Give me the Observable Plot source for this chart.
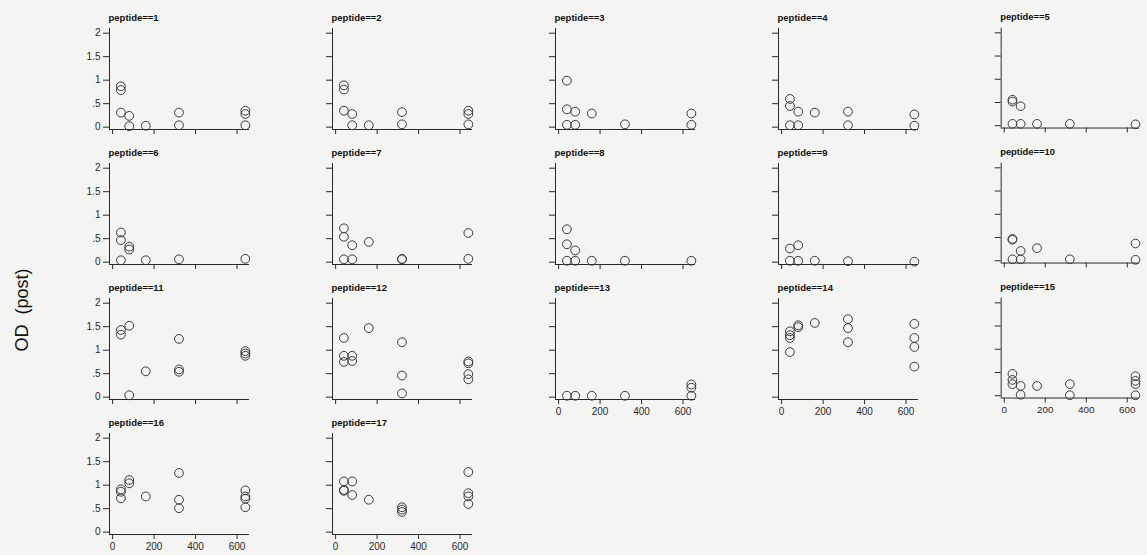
<!DOCTYPE html>
<html>
<head>
<meta charset="utf-8">
<script src="https://cdn.jsdelivr.net/npm/d3@7"></script>
<script src="https://cdn.jsdelivr.net/npm/@observablehq/plot@0.6"></script>
<style>
  html, body { margin: 0; padding: 0; background: #f4f4f3; }
  #chart { position: relative; width: 1147px; height: 555px; overflow: hidden; font-family: "Liberation Sans", Arial, sans-serif; }
  .panel { position: absolute; }
  #ylab { position: absolute; left: 22px; top: 310px; transform: translate(-50%, -50%) rotate(-90deg); font-size: 18px; color: #111; white-space: pre; }
</style>
</head>
<body>
<div id="chart"><div id="ylab">OD  (post)</div></div>
<script>
// doses (x values)
const doses = [40, 80, 160, 320, 640];
// axis ticks
const xTicks = [0, 200, 400, 600];
const xTickLabels = ["0", "200", "400", "600"];
const yTicks = [0, 0.5, 1, 1.5, 2];
const yTickLabels = ["0", ".5", "1", "1.5", "2"];
// OD (post) values per dose (groups follow doses order)
const pep1  = [[0.87, 0.79, 0.31], [0.24, 0.02], [0.03], [0.31, 0.04], [0.35, 0.28, 0.04]];
const pep2  = [[0.89, 0.80, 0.35], [0.28, 0.04], [0.04], [0.32, 0.06], [0.35, 0.28, 0.06]];
const pep3  = [[0.99, 0.38, 0.05], [0.33, 0.05], [0.29], [0.06], [0.29, 0.05]];
const pep4  = [[0.60, 0.45, 0.04], [0.33, 0.04], [0.31], [0.33, 0.04], [0.27, 0.03]];
const pep5  = [[0.56, 0.52, 0.04], [0.42, 0.04], [0.04], [0.04], [0.03]];
const pep6  = [[0.63, 0.47, 0.04], [0.33, 0.27], [0.04], [0.06], [0.07]];
const pep7  = [[0.72, 0.54, 0.06], [0.36, 0.06], [0.43], [0.07, 0.06], [0.62, 0.07]];
const pep8  = [[0.70, 0.38, 0.03], [0.25, 0.03], [0.03], [0.03], [0.03]];
const pep9  = [[0.29, 0.03], [0.36, 0.03], [0.03], [0.02], [0.01]];
const pep10 = [[0.47, 0.45, 0.03], [0.21, 0.03], [0.27], [0.03], [0.37, 0.02]];
const pep11 = [[1.43, 1.33], [1.52, 0.04], [0.55], [1.24, 0.59, 0.54], [0.98, 0.93, 0.88]];
const pep12 = [[1.26, 0.88, 0.75], [0.88, 0.77], [1.47], [1.17, 0.46, 0.08], [0.76, 0.72, 0.49, 0.38]];
const pep13 = [[0.03], [0.03], [0.03], [0.03], [0.27, 0.20, 0.03]];
const pep14 = [[1.40, 1.32, 1.26, 0.96], [1.53, 1.49], [1.58], [1.66, 1.47, 1.17], [1.56, 1.26, 1.07, 0.65]];
const pep15 = [[0.47, 0.34, 0.25], [0.21, 0.02], [0.21], [0.25, 0.01], [0.42, 0.32, 0.25, 0.01]];
const pep16 = [[0.91, 0.86, 0.72], [1.11, 1.04], [0.76], [1.26, 0.69, 0.51], [0.89, 0.76, 0.71, 0.53]];
const pep17 = [[1.08, 0.90, 0.88], [1.08, 0.79], [0.69], [0.53, 0.48, 0.43], [1.28, 0.83, 0.76, 0.60]];
const peptides = [pep1, pep2, pep3, pep4, pep5, pep6, pep7, pep8, pep9, pep10,
                  pep11, pep12, pep13, pep14, pep15, pep16, pep17];
const panelTitles = peptides.map((_, i) => `peptide==${i + 1}`);

const nCols = 5;
const nPanels = peptides.length;
const xDomain = [-15, 660];
const yDomain = [-0.05, 2.1];
const mL = 30, mT = 28, mB = 26, mR = 8, frameW = 140, frameH = 101;
const ink = "#2a2a2a";

const chart = document.getElementById("chart");

peptides.forEach((groups, i) => {
  const col = i % nCols, row = Math.floor(i / nCols);
  const rows = groups.flatMap((vals, g) => vals.map(v => ({dose: doses[g], od: v})));
  const showY = col === 0;
  const showX = i + nCols >= nPanels; // bottom panel of its column
  const p = Plot.plot({
    width: mL + frameW + mR,
    height: mT + frameH + mB,
    marginLeft: mL, marginTop: mT, marginBottom: mB, marginRight: mR,
    style: {background: "transparent", fontFamily: "'Liberation Sans', Arial, sans-serif", fontSize: "10px", color: ink, overflow: "visible"},
    x: {domain: xDomain},
    y: {domain: yDomain},
    marks: [
      Plot.ruleX([xDomain[0]], {stroke: ink, strokeWidth: 1}),
      Plot.ruleY([yDomain[0]], {stroke: ink, strokeWidth: 1}),
      Plot.axisY(yTicks, {tickSize: 6, tickPadding: 3, stroke: ink, fill: ink, fontSize: 10,
        tickFormat: d => showY ? yTickLabels[yTicks.indexOf(d)] : "", label: null}),
      Plot.axisX(xTicks, {tickSize: 5, tickPadding: 3, stroke: ink, fill: ink, fontSize: 10,
        tickFormat: d => showX ? xTickLabels[xTicks.indexOf(d)] : "", label: null}),
      Plot.dot(rows, {x: "dose", y: "od", r: 4.4, stroke: "#3a3a3a", strokeWidth: 1, fill: "none"}),
      Plot.text([panelTitles[i]], {frameAnchor: "top-left", textAnchor: "start", lineAnchor: "bottom",
        dy: -8, dx: -1, fontSize: 9.5, fill: "#111", fontWeight: "bold"})
    ]
  });
  const div = document.createElement("div");
  div.className = "panel";
  div.style.left = (109 + 223 * col - mL) + "px";
  div.style.top = (0.3 + 135 * row) + "px";
  div.appendChild(p);
  chart.appendChild(div);
});
</script>
</body>
</html>
